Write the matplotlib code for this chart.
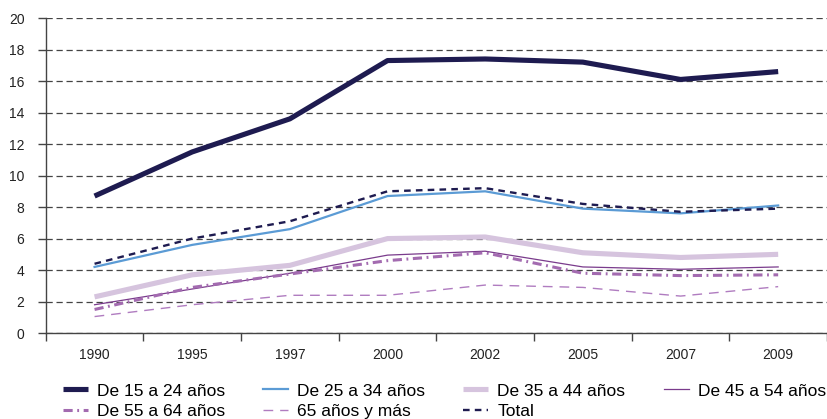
import matplotlib.pyplot as plt
from matplotlib.ticker import FixedLocator

plt.rcParams["font.family"] = ["Liberation Sans", "DejaVu Sans"]

years = ["1990", "1995", "1997", "2000", "2002", "2005", "2007", "2009"]
de_15_24 = [8.7, 11.5, 13.6, 17.3, 17.4, 17.2, 16.1, 16.6]
de_25_34 = [4.2, 5.6, 6.6, 8.7, 9.0, 7.9, 7.6, 8.1]
de_35_44 = [2.3, 3.7, 4.3, 6.0, 6.1, 5.1, 4.8, 5.0]
de_45_54 = [1.8, 2.8, 3.8, 4.95, 5.2, 4.2, 4.05, 4.2]
de_55_64 = [1.5, 2.9, 3.75, 4.6, 5.1, 3.8, 3.65, 3.7]
de_65_mas = [1.05, 1.8, 2.4, 2.4, 3.05, 2.9, 2.35, 2.95]
total = [4.4, 6.0, 7.1, 9.0, 9.2, 8.2, 7.7, 7.9]

fig = plt.figure(figsize=(8.27, 4.19), dpi=100)
ax = fig.add_axes([0.0553, 0.205, 0.9447, 0.752])

x = list(range(len(years)))
h1, = ax.plot(x, de_15_24, color="#1e1b50", lw=3.7, solid_capstyle="butt",
              label="De 15 a 24 años")
h2, = ax.plot(x, de_25_34, color="#5b9bd5", lw=1.6, label="De 25 a 34 años")
h3, = ax.plot(x, de_35_44, color="#d6c4de", lw=3.7, solid_capstyle="butt",
              label="De 35 a 44 años")
h4, = ax.plot(x, de_45_54, color="#7a3b8c", lw=0.9, label="De 45 a 54 años")
h5, = ax.plot(x, de_55_64, color="#a36bb0", lw=2.2,
              dashes=(3, 1.5, 0.6, 1.5), label="De 55 a 64 años")
h6, = ax.plot(x, de_65_mas, color="#b07cc0", lw=1.0, dashes=(7, 5),
              label="65 años y más")
h7, = ax.plot(x, total, color="#1e1b50", lw=1.7, dashes=(2.8, 2.2), label="Total")

ax.set_xlim(-0.5, 7.5)
ax.set_ylim(0, 20)
ax.set_yticks(range(0, 21, 2))
ax.yaxis.grid(True, color="#444444", ls=(0, (5, 3)), lw=0.9)
ax.set_axisbelow(True)

ax.xaxis.set_major_locator(FixedLocator([i - 0.5 for i in range(len(years) + 1)]))
ax.xaxis.set_minor_locator(FixedLocator(x))
ax.set_xticklabels([])
ax.set_xticklabels(years, minor=True)
ax.tick_params(axis="x", which="major", length=5.5, width=1, color="#444444")
ax.tick_params(axis="x", which="minor", length=0, pad=10.5, labelsize=10,
               labelcolor="#222222")
ax.tick_params(axis="y", length=5.8, width=1, color="#444444", labelsize=10,
               labelcolor="#222222", pad=9.5)

for side in ["top", "right"]:
    ax.spines[side].set_visible(False)
for side in ["left", "bottom"]:
    ax.spines[side].set_color("#444444")
    ax.spines[side].set_linewidth(1)

# legend fills column-wise, so interleave to get the reference row order
handles = [h1, h5, h2, h6, h3, h7, h4]
fig.legend(handles, [h.get_label() for h in handles], ncol=4,
           loc="upper left", bbox_to_anchor=(0.076, 0.085), frameon=False,
           fontsize=12.5, handlelength=1.44, handletextpad=0.52,
           columnspacing=2.2, labelspacing=0.32, borderaxespad=0,
           borderpad=0)

fig.savefig("out.png", dpi=100)
